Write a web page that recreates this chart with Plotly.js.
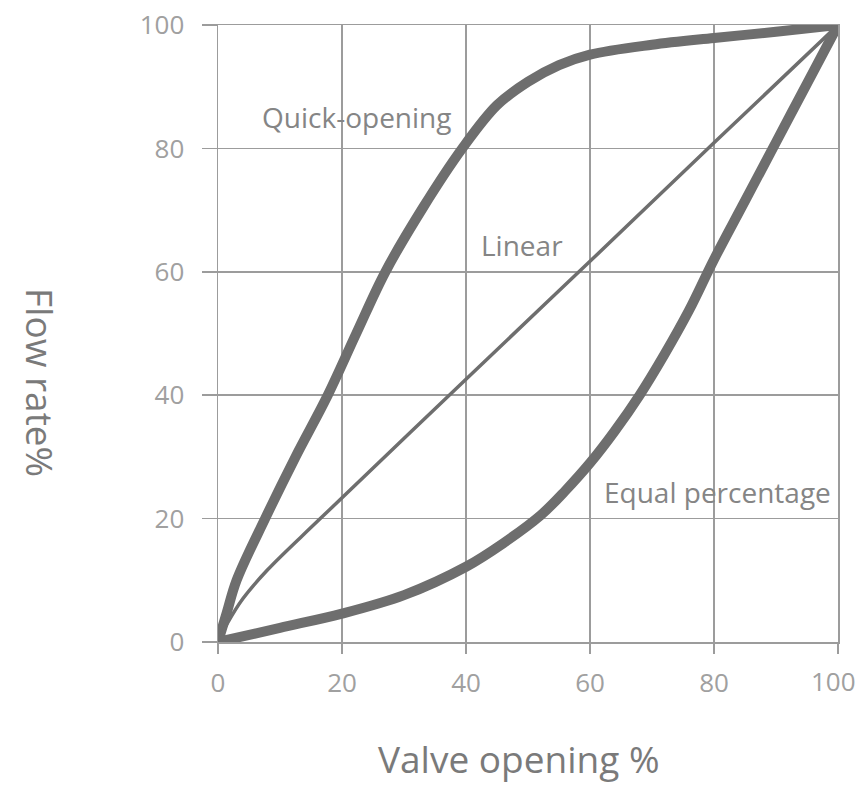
<!DOCTYPE html>
<html>
<head>
<meta charset="utf-8">
<script src="https://cdn.plot.ly/plotly-3.0.1.min.js"></script>
<style>
html,body{margin:0;padding:0;background:#fff;}
#chart{width:858px;height:785px;}
</style>
</head>
<body>
<div id="chart"></div>
<script>
// Valve opening (%) and flow rate (%)
const quickX = [0, 1.4, 3, 7.6, 12.5, 17.7, 22.3, 27, 33, 39.4, 45, 50, 55, 60, 70, 80, 90, 100];
const quickY = [0, 4.7, 10, 20, 30, 40, 50, 60, 70.3, 80, 87, 90.8, 93.5, 95.2, 96.8, 97.9, 98.9, 100];

const linearX = [0, 1.5, 4, 8, 16.5, 40, 60, 80, 100];
const linearY = [0, 3, 7, 11.7, 20, 42.6, 61.7, 80.9, 100];

const equalX = [0, 10, 20, 30, 40, 46, 52, 56, 60, 64, 68, 72, 76, 80, 85, 90, 95, 100];
const equalY = [0, 2.3, 4.6, 7.6, 12.2, 16, 20.5, 24.5, 29, 34.2, 40, 46.6, 53.8, 62, 71.5, 81, 90.5, 100];

const tickVals = [0, 20, 40, 60, 80, 100];
const tickText = ["0", "20", "40", "60", "80", "100"];

const curveLabels = ["Quick-opening", "Linear", "Equal percentage"];
const labelX = [22.3, 49, 80.5];
const labelY = [85.1, 64.3, 24.3];

const xTitle = "Valve opening %";
const yTitle = "Flow rate%";

const curveColor = "#6e6e6e";
const gridColor = "#9c9c9c";
const labelColor = "#858585";
const tickColor = "#a0a0a0";
const font = "'Open Sans', 'Lato', sans-serif";

const traces = [
  {x: quickX, y: quickY, mode: "lines", line: {color: curveColor, width: 10, shape: "spline", smoothing: 1}, cliponaxis: false, hoverinfo: "skip"},
  {x: linearX, y: linearY, mode: "lines", line: {color: curveColor, width: 3.5, shape: "spline", smoothing: 1}, cliponaxis: false, hoverinfo: "skip"},
  {x: equalX, y: equalY, mode: "lines", line: {color: curveColor, width: 10, shape: "spline", smoothing: 1}, cliponaxis: false, hoverinfo: "skip"}
];

const axisCommon = {
  range: [0, 100],
  tickmode: "array",
  tickvals: tickVals,
  showgrid: true,
  gridcolor: gridColor,
  gridwidth: 1.5,
  zeroline: false,
  showline: true,
  mirror: true,
  linecolor: gridColor,
  linewidth: 1.5,
  ticks: "outside",
  tickcolor: gridColor,
  tickwidth: 1.5,
  tickfont: {family: font, size: 26, color: tickColor},
  fixedrange: true
};

const plotL = 218, plotR = 20, plotT = 25, plotB = 143;
const plotW = 858 - plotL - plotR, plotH = 785 - plotT - plotB;
const px2paperX = p => (p - plotL) / plotW;
const px2paperY = p => (785 - plotB - p) / plotH;

// last x tick label would overflow the page edge: draw it as an annotation shifted left
const lastIdx = tickText.length - 1;
const xTickText = tickText.map((t, i) => i === lastIdx ? "" : t);

const layout = {
  width: 858,
  height: 785,
  margin: {l: plotL, r: plotR, t: plotT, b: plotB},
  paper_bgcolor: "#ffffff",
  plot_bgcolor: "#ffffff",
  showlegend: false,
  xaxis: Object.assign({}, axisCommon, {ticktext: xTickText, ticklen: 10, ticklabelstandoff: 7, title: {text: ""}}),
  yaxis: Object.assign({}, axisCommon, {ticktext: tickText, ticklen: 15, ticklabelstandoff: 12, title: {text: ""}}),
  annotations: curveLabels.map((t, i) => ({
    x: labelX[i], y: labelY[i], text: t, showarrow: false, xref: "x", yref: "y",
    font: {family: font, size: 28, color: labelColor}
  })).concat([
    {x: px2paperX(41), y: px2paperY(382), xref: "paper", yref: "paper", text: yTitle, showarrow: false,
     textangle: 90, xanchor: "center", yanchor: "middle",
     font: {family: font, size: 37, color: "#7a7a7a"}},
    {x: px2paperX(519), y: px2paperY(758), xref: "paper", yref: "paper", text: xTitle, showarrow: false,
     xanchor: "center", yanchor: "middle",
     font: {family: font, size: 37, color: "#7a7a7a"}},
    {x: px2paperX(857), y: px2paperY(681), xref: "paper", yref: "paper", text: tickText[lastIdx], showarrow: false,
     xanchor: "right", yanchor: "middle", borderpad: 0,
     font: {family: font, size: 26, color: tickColor}}
  ])
};

Plotly.newPlot("chart", traces, layout, {staticPlot: true, displayModeBar: false});
</script>
</body>
</html>
